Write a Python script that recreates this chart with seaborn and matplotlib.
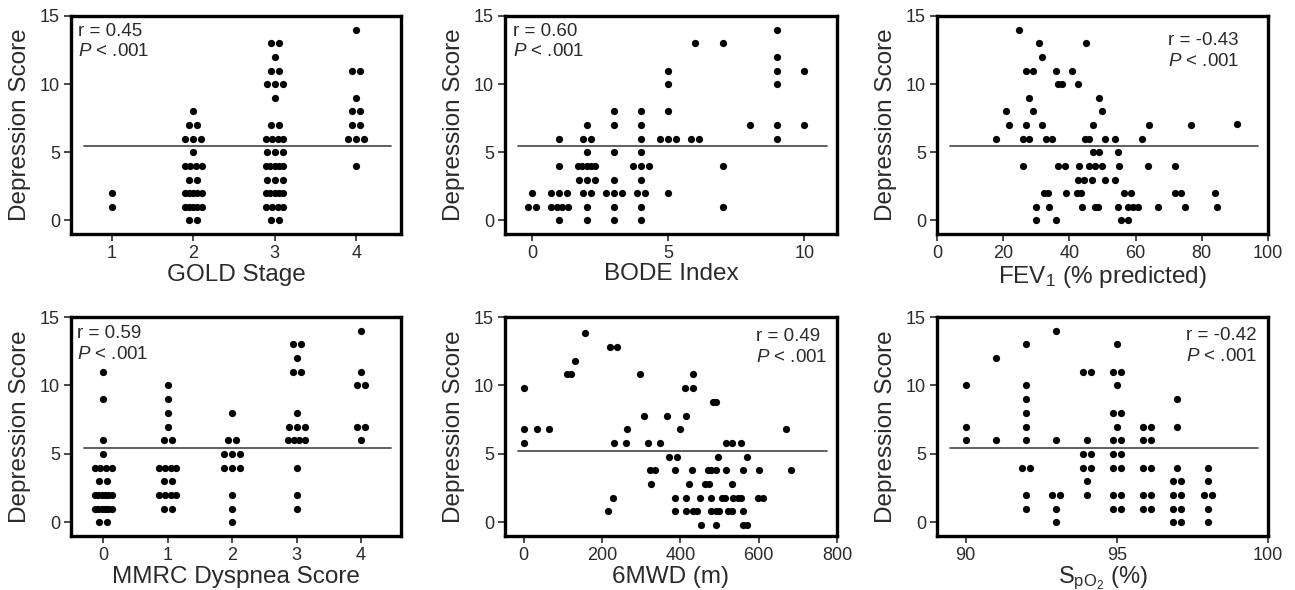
import numpy as np
import pandas as pd
import matplotlib
matplotlib.use("Agg")
import matplotlib.pyplot as plt
import seaborn as sns

# Depression score vs. disease severity measures (6 panels)

# GOLD stage: scores per stage
gold_stage = [1, 2, 3, 4]
gold_dep = [
    [2, 1],
    [8, 7, 7, 6, 6, 6, 5, 4, 4, 4, 4, 3, 3, 2, 2, 2, 2, 2, 1, 1, 1, 1, 1, 0, 0],
    [13, 13, 12, 11, 11, 10, 10, 10, 9, 7, 7, 6, 6, 6, 6, 5, 5, 5, 4, 4, 4, 4, 4,
     3, 3, 3, 2, 2, 2, 2, 2, 1, 1, 1, 1, 0, 0],
    [14, 11, 11, 9, 8, 8, 7, 7, 6, 6, 6, 4],
]

# BODE index
bode_index = [0, 1, 2, 3, 4, 5, 6, 7, 8, 9, 10]
bode_dep = [
    [2, 1, 1],
    [6, 4, 2, 2, 2, 1, 1, 1, 1, 0],
    [7, 6, 6, 5, 4, 4, 4, 4, 4, 3, 3, 3, 2, 2, 1, 0],
    [8, 7, 5, 3, 2, 2, 2, 1, 0],
    [8, 7, 6, 5, 4, 4, 4, 3, 2, 2, 1, 0],
    [11, 10, 8, 6, 6, 6, 2],
    [13, 6, 6],
    [13, 4, 1],
    [7],
    [14, 12, 11, 10, 7, 6],
    [11, 7],
]

# FEV1 (% predicted)
fev1 = [24.8, 30.8, 45.0, 31.6, 26.9, 29.1, 35.9, 40.7, 36.7, 37.7, 42.7, 27.8, 48.8,
        20.8, 28.9, 49.8, 21.8, 26.9, 31.6, 47.0, 63.9, 76.8, 90.7,
        17.8, 25.9, 27.8, 32.8, 34.8, 44.7, 46.0, 50.8, 53.8, 61.9,
        47.0, 48.8, 54.8,
        25.9, 36.5, 38.7, 42.9, 45.8, 47.6, 49.8, 55.1, 63.7, 71.8,
        42.7, 44.5, 46.8, 50.8, 53.8,
        32.4, 33.4, 38.9, 42.2, 43.5, 56.6, 58.7, 71.8, 73.8, 83.9,
        29.9, 33.8, 43.9, 47.6, 48.6, 54.8, 57.7, 59.1, 60.7, 66.8, 74.8, 84.6,
        29.9, 35.9, 55.7, 57.7]
fev1_dep = [14, 13, 13, 12, 11, 11, 11, 11, 10, 10, 10, 9, 9,
            8, 8, 8, 7, 7, 7, 7, 7, 7, 7.1,
            6, 6, 6, 6, 6, 6, 6, 6, 6, 6,
            5, 5, 5,
            4, 4, 4, 4, 4, 4, 4, 4, 4, 4,
            3, 3, 3, 3, 3,
            2, 2, 2, 2, 2, 2, 2, 2, 2, 2,
            1, 1, 1, 1, 1, 1, 1, 1, 1, 1, 1, 1,
            0, 0, 0, 0]

# MMRC dyspnea score
mmrc_score = [0, 1, 2, 3, 4]
mmrc_dep = [
    [11, 9, 6, 5, 4, 4, 4, 4, 3, 3, 2, 2, 2, 2, 2, 2, 1, 1, 1, 1, 1, 1, 0, 0],
    [10, 9, 8, 7, 6, 6, 4, 4, 4, 4, 3, 3, 2, 2, 2, 2, 1, 1],
    [8, 6, 6, 5, 5, 5, 4, 4, 4, 2, 1, 0],
    [13, 13, 12, 11, 11, 8, 7, 7, 7, 6, 6, 6, 6, 4, 2, 1],
    [14, 11, 10, 10, 7, 7, 6],
]

# 6-minute walk distance (m)
mwd = [0, 0, 0, 34, 64, 157, 110, 120, 131, 219, 239, 297, 215, 227, 230, 260, 264,
       307, 318, 348, 323, 335, 324, 366, 372, 391, 387, 399, 415, 413, 432, 432,
       387, 385, 415, 415, 422, 430, 432, 443, 449, 453, 462, 473, 470, 479, 490,
       479, 479, 490, 499, 490, 482, 490, 496, 507, 513, 516, 522, 533, 516, 533,
       533, 535, 548, 556, 554, 560, 561, 569, 561, 571, 602, 597, 612, 670, 683]
mwd_dep = [9.8, 6.8, 5.8, 6.8, 6.8, 13.8, 10.8, 10.8, 11.8, 12.8, 12.8, 10.8, 0.8, 1.8, 5.8, 5.8, 6.8,
           7.8, 5.8, 5.8, 3.8, 3.8, 2.8, 7.8, 4.8, 4.8, 3.8, 6.8, 7.8, 9.8, 9.8, 10.8,
           1.8, 0.8, 1.8, 0.8, 2.8, 3.8, 0.8, 0.8, 1.8, -0.2, 2.8, 2.8, 3.8, 3.8, 3.8,
           1.8, 0.8, 0.8, 0.8, -0.2, 8.8, 8.8, 4.8, 1.8, 1.8, 3.8, 0.8, 0.8, 5.8, 5.8,
           2.8, 1.8, 1.8, 1.8, 5.8, 0.8, 3.8, 4.8, -0.2, -0.2, 3.8, 1.8, 1.8, 6.8, 3.8]

# SpO2 (%)
spo2 = [90, 91, 92, 93, 94, 95, 96, 97, 98]
spo2_dep = [
    [10, 7, 6],
    [12, 6],
    [13, 10, 9, 8, 7, 6, 4, 4, 2, 1],
    [14, 6, 2, 2, 1, 0],
    [11, 11, 6, 5, 5, 4, 4, 3, 2],
    [13, 11, 11, 10, 8, 8, 7, 6, 6, 5, 5, 4, 4, 2, 2, 1, 1],
    [7, 7, 6, 6, 4, 4, 2, 2, 1, 1],
    [9, 7, 4, 3, 3, 2, 2, 1, 1, 0, 0],
    [4, 3, 2, 2, 1, 0],
]

mean_line = [5.45, 5.45, 5.45, 5.4, 5.2, 5.4]
r_text = ["r = 0.45", "r = 0.60", "r = -0.43", "r = 0.59", "r = 0.49", "r = -0.42"]
x_labels = ["GOLD Stage", "BODE Index", "FEV$_1$ (% predicted)",
            "MMRC Dyspnea Score", "6MWD (m)", "S$_{\\mathrm{pO_2}}$ (%)"]


def spread_table(levels, groups, px_per_unit):
    # side-by-side placement of tied scores, like the dot plots in the figure
    xs, ys = [], []
    for lv, g in zip(levels, groups):
        vals, counts = np.unique(g, return_counts=True)
        for v, n in zip(vals, counts):
            step = min(8.0, 17.0 / max(n - 1, 1)) / px_per_unit
            xs.extend(lv + (np.arange(n) - (n - 1) / 2) * step)
            ys.extend([v] * n)
    return pd.DataFrame({"x": xs, "y": ys})


sns.set_style("ticks")
plt.rcParams["font.family"] = ["Liberation Sans", "DejaVu Sans"]
plt.rcParams["mathtext.fontset"] = "custom"
plt.rcParams["mathtext.rm"] = "Liberation Sans"
plt.rcParams["mathtext.it"] = "Liberation Sans:italic"
plt.rcParams["text.color"] = "#2a2a2a"
plt.rcParams["axes.labelcolor"] = "#2a2a2a"
plt.rcParams["xtick.color"] = "#2a2a2a"
plt.rcParams["ytick.color"] = "#2a2a2a"

fig = plt.figure(figsize=(12.95, 5.9), dpi=100)
W, H = 1295, 590
cols = [(71, 330), (505, 332), (937, 331)]
rows = [(16, 234), (317, 536)]
axes = []
for top, bot in rows:
    for left, w in cols:
        axes.append(fig.add_axes([left / W, 1 - bot / H, w / W, (bot - top) / H]))

xlims = [(0.5, 4.55), (-1, 11.2), (0, 100), (-0.5, 4.62), (-48, 800), (89.05, 100)]
xticks = [[1, 2, 3, 4], [0, 5, 10], [0, 20, 40, 60, 80, 100],
          [0, 1, 2, 3, 4], [0, 200, 400, 600, 800], [90, 95, 100]]
text_pos = [(0.02, 0.97, "left"), (0.024, 0.97, "left"), (0.915, 0.925, "right"),
            (0.018, 0.965, "left"), (0.97, 0.95, "right"), (0.967, 0.955, "right")]

dot = 5.2
discrete = {0: (gold_stage, gold_dep), 1: (bode_index, bode_dep),
            3: (mmrc_score, mmrc_dep), 5: (spo2, spo2_dep)}
for i, (lv, grp) in discrete.items():
    px_unit = cols[i % 3][1] / (xlims[i][1] - xlims[i][0])
    df = spread_table(lv, grp, px_unit)
    sns.scatterplot(data=df, x="x", y="y", color="black", s=dot ** 2,
                    linewidth=0, ax=axes[i])

sns.scatterplot(x=fev1, y=fev1_dep, color="black", s=dot ** 2, linewidth=0, ax=axes[2])
sns.scatterplot(x=mwd, y=mwd_dep, color="black", s=dot ** 2, linewidth=0, ax=axes[4])

for i, ax in enumerate(axes):
    ax.set_xlim(xlims[i])
    ax.set_ylim(-1, 15)
    ax.set_xticks(xticks[i])
    ax.set_yticks([0, 5, 10, 15])
    ax.axhline(mean_line[i], xmin=0.04, xmax=0.97, color="#444444", lw=1.2, zorder=1)
    for s in ax.spines.values():
        s.set_visible(True)
        s.set_linewidth(2.4)
        s.set_color("black")
    ax.tick_params(axis="both", direction="out", length=5, width=1.2,
                   labelsize=13, pad=3, top=False, right=False)
    if i == 5:
        ax.set_xlabel(x_labels[i], fontsize=17, labelpad=0)
    else:
        ax.set_xlabel(x_labels[i], fontsize=17.5, labelpad=1)
    ax.set_ylabel("Depression Score", fontsize=17.5, labelpad=6)
    tx, ty, ha = text_pos[i]
    ax.text(tx, ty, r_text[i] + "\n$P$ < .001", transform=ax.transAxes,
            ha=ha, va="top", fontsize=13.5, linespacing=1.3, multialignment="left")

fig.savefig("out.png", dpi=100)
